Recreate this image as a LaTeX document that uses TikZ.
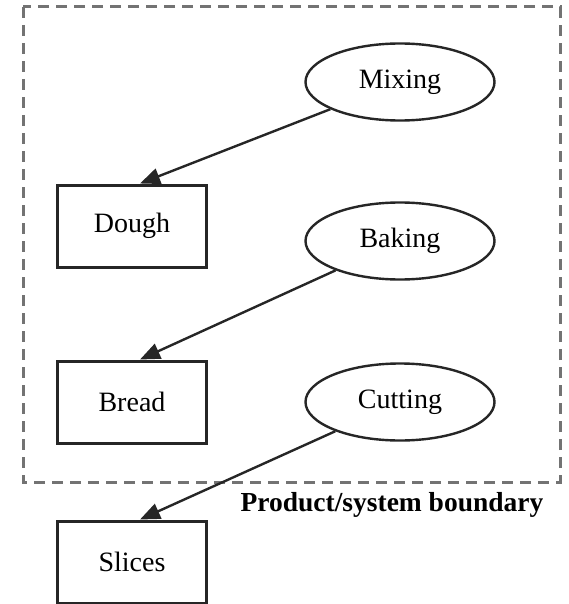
\documentclass[tikz,border=0pt]{standalone}
\usepackage{fontspec}
\setmainfont{Liberation Serif}
\usetikzlibrary{shapes.geometric,arrows.meta}
\begin{document}
\begin{tikzpicture}[x=1pt,y=-1pt,
  proc/.style={draw=black!85,line width=2.4pt,ellipse,minimum width=189pt,minimum height=77pt,inner sep=0pt,font=\fontsize{28}{32}\selectfont},
  prod/.style={draw=black!85,line width=3pt,rectangle,minimum width=149pt,minimum height=82pt,inner sep=0pt,font=\fontsize{28}{32}\selectfont},
  arr/.style={draw=black!85,line width=2.4pt,-{Triangle[length=20pt,width=16pt]}},
  bound/.style={draw=black!55,line width=3pt,dash pattern=on 11pt off 7pt}
]
\useasboundingbox (0,0) rectangle (569,604);
\draw[bound] (23,7) rectangle (560,482);
\node[proc] (mix) at (400,82) {Mixing};
\node[proc] (bake) at (400,241) {Baking};
\node[proc] (cut) at (400,402) {Cutting};
\node[prod] (dough) at (132,226) {Dough};
\node[prod] (bread) at (132,402) {Bread};
\node[prod] (slices) at (132,562) {Slices};
\node[font=\bfseries\fontsize{27.5}{30}\selectfont] (lbl) at (392,505) {Product/system boundary};
\draw[arr] (mix) -- ([xshift=8pt]dough.north);
\draw[arr] (bake) -- ([xshift=8pt]bread.north);
\draw[arr] (cut) -- ([xshift=8pt]slices.north);
\end{tikzpicture}
\end{document}
